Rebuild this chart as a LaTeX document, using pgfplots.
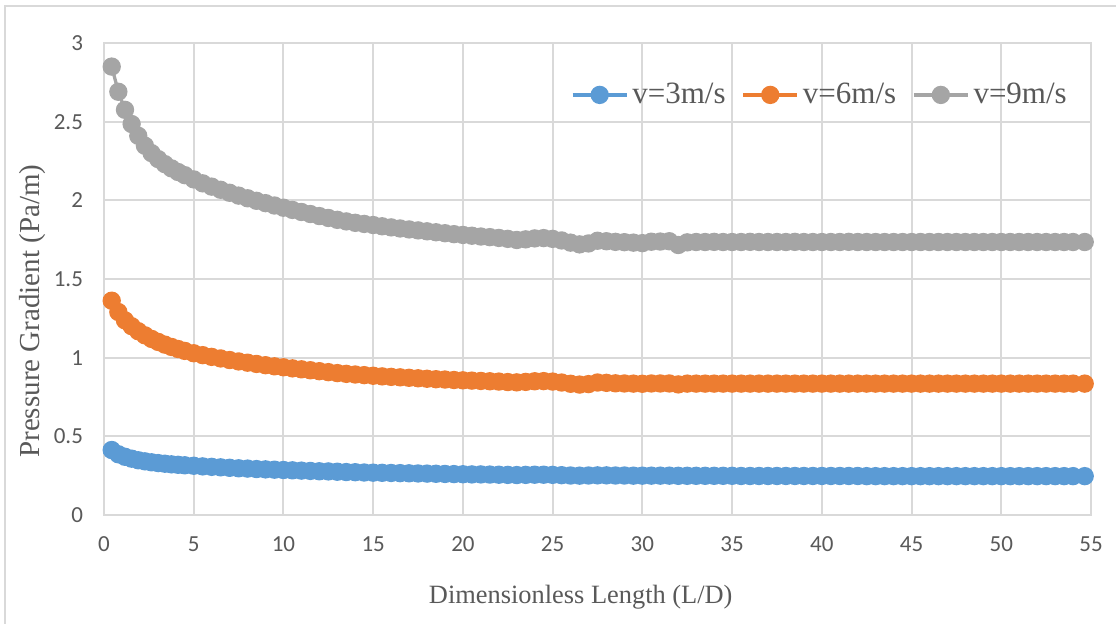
\documentclass[border=0pt]{standalone}
\usepackage{fontspec}
\setmainfont{Liberation Serif}
\newfontfamily\tickfont{Carlito}
\usepackage{pgfplots}
\usepackage{pgfplotstable}
\pgfplotsset{compat=1.18}

\definecolor{sblue}{HTML}{5B9BD5}
\definecolor{sorange}{HTML}{ED7D31}
\definecolor{sgray}{HTML}{A5A5A5}
\definecolor{gridc}{HTML}{D9D9D9}
\definecolor{txt}{HTML}{595959}

% L/D, v=3, v=6, v=9
\pgfplotstableread{
x     a     b     c
0.43  0.413 1.362 2.850
0.80  0.386 1.290 2.690
1.17  0.370 1.237 2.575
1.54  0.358 1.200 2.485
1.91  0.348 1.168 2.410
2.28  0.341 1.142 2.347
2.65  0.335 1.119 2.300
3.02  0.330 1.100 2.262
3.39  0.326 1.083 2.230
3.76  0.322 1.068 2.203
4.13  0.319 1.055 2.180
4.50  0.316 1.043 2.160
5.0   0.313 1.028 2.133
5.5   0.309 1.016 2.108
6.0   0.306 1.005 2.087
6.5   0.303 0.995 2.067
7.0   0.300 0.985 2.048
7.5   0.297 0.976 2.030
8.0   0.295 0.968 2.013
8.5   0.292 0.960 1.997
9.0   0.290 0.952 1.982
9.5   0.288 0.945 1.967
10.0  0.286 0.939 1.953
10.5  0.284 0.932 1.939
11.0  0.282 0.926 1.926
11.5  0.280 0.920 1.913
12.0  0.278 0.914 1.900
12.5  0.277 0.908 1.888
13.0  0.275 0.902 1.876
13.5  0.273 0.897 1.866
14.0  0.272 0.893 1.857
14.5  0.270 0.889 1.850
15.0  0.269 0.885 1.843
15.5  0.268 0.881 1.835
16.0  0.267 0.878 1.828
16.5  0.266 0.875 1.821
17.0  0.265 0.872 1.815
17.5  0.264 0.869 1.809
18.0  0.263 0.866 1.803
18.5  0.262 0.863 1.797
19.0  0.261 0.861 1.791
19.5  0.260 0.858 1.785
20.0  0.259 0.856 1.780
20.5  0.258 0.854 1.775
21.0  0.258 0.852 1.770
21.5  0.257 0.850 1.766
22.0  0.256 0.848 1.761
22.5  0.255 0.845 1.755
23.0  0.254 0.843 1.748
23.5  0.255 0.846 1.752
24.0  0.256 0.850 1.758
24.5  0.256 0.851 1.760
25.0  0.255 0.848 1.755
25.5  0.253 0.842 1.745
26.0  0.251 0.834 1.731
26.5  0.250 0.829 1.720
27.0  0.251 0.832 1.726
27.5  0.252 0.842 1.743
28.0  0.252 0.840 1.740
28.5  0.251 0.837 1.736
29.0  0.251 0.836 1.734
29.5  0.250 0.835 1.731
30.0  0.250 0.834 1.728
30.5  0.250 0.836 1.737
31.0  0.250 0.836 1.738
31.5  0.250 0.836 1.740
32.0  0.249 0.830 1.716
32.5  0.249 0.835 1.733
33.0  0.249 0.835 1.735
33.5  0.249 0.835 1.735
34.0  0.249 0.835 1.736
34.5  0.249 0.835 1.735
35.0  0.249 0.835 1.735
35.5  0.248 0.835 1.735
36.0  0.248 0.835 1.736
36.5  0.248 0.835 1.735
37.0  0.248 0.835 1.735
37.5  0.248 0.835 1.735
38.0  0.248 0.835 1.735
38.5  0.248 0.835 1.736
39.0  0.248 0.835 1.735
39.5  0.248 0.835 1.735
40.0  0.248 0.835 1.735
40.5  0.248 0.835 1.735
41.0  0.248 0.835 1.735
41.5  0.248 0.835 1.736
42.0  0.248 0.835 1.735
42.5  0.247 0.835 1.735
43.0  0.247 0.835 1.735
43.5  0.247 0.835 1.735
44.0  0.247 0.835 1.735
44.5  0.247 0.835 1.735
45.0  0.247 0.835 1.735
45.5  0.247 0.835 1.735
46.0  0.247 0.835 1.735
46.5  0.247 0.835 1.735
47.0  0.247 0.835 1.735
47.5  0.247 0.835 1.735
48.0  0.247 0.835 1.735
48.5  0.247 0.835 1.735
49.0  0.247 0.835 1.735
49.5  0.247 0.835 1.735
50.0  0.247 0.835 1.735
50.5  0.247 0.835 1.735
51.0  0.247 0.835 1.735
51.5  0.247 0.835 1.735
52.0  0.247 0.835 1.735
52.5  0.247 0.835 1.735
53.0  0.247 0.835 1.735
53.5  0.247 0.835 1.735
54.0  0.247 0.835 1.735
54.65 0.247 0.835 1.735
}\pressure

\begin{document}
\begin{tikzpicture}
\begin{axis}[
    scale only axis,
    width=493.5pt, height=236pt,
    xmin=0, xmax=55, ymin=0, ymax=3,
    xtick={0,5,...,55},
    ytick={0,0.5,1,1.5,2,2.5,3},
    yticklabels={0,0.5,1,1.5,2,2.5,3},
    grid=major,
    major grid style={color=gridc, line width=1pt},
    axis line style={color=gridc, line width=1pt},
    tick style={draw=none},
    ticklabel style={font=\tickfont\fontsize{11.5}{13}\selectfont, text=txt},
    /pgf/number format/assume math mode=true,
    x tick label style={yshift=-7.5pt},
    y tick label style={xshift=-7pt},
    xlabel={Dimensionless Length (L/D)},
    ylabel={Pressure Gradient (Pa/m)},
    xlabel style={font=\fontsize{13.2}{15}\selectfont, text=txt,
        at={(axis description cs:0.483,-0.174)}, anchor=center},
    ylabel style={font=\fontsize{14.5}{16}\selectfont, text=txt,
        at={(axis description cs:-0.0724,0.432)}, anchor=center},
    legend columns=3,
    legend style={draw=none, fill=none, text=txt,
        font=\fontsize{15.5}{18}\selectfont,
        at={(axis description cs:0.986,0.89)}, anchor=east,
        /tikz/every even column/.append style={column sep=6pt}},
    legend image code/.code={%
        \draw[mark repeat=2, mark phase=2] plot coordinates {(0pt,0pt) (13.5pt,0pt) (27pt,0pt)};},
    every axis plot/.append style={line width=1.65pt, mark=*, mark size=3.75pt, mark options={solid}},
    clip=false,
]
\addplot[color=sblue] table[x=x, y=a] {\pressure};
\addlegendentry{v=3m/s}
\addplot[color=sorange] table[x=x, y=b] {\pressure};
\addlegendentry{v=6m/s}
\addplot[color=sgray] table[x=x, y=c] {\pressure};
\addlegendentry{v=9m/s}
\coordinate (ll) at (rel axis cs:0,0);
\coordinate (ul) at (rel axis cs:0,1);
\coordinate (ur) at (rel axis cs:1,1);
\end{axis}
\pgfresetboundingbox
\path[use as bounding box] ([xshift=-52pt,yshift=-54.5pt]ll) rectangle ([xshift=12.5pt,yshift=21.5pt]ur);
\draw[gridc, line width=1pt] ([xshift=-49.5pt,yshift=-60pt]ll) -- ([xshift=-49.5pt,yshift=18.5pt]ul) -- ([xshift=20pt,yshift=18.5pt]ur);
\end{tikzpicture}
\end{document}
